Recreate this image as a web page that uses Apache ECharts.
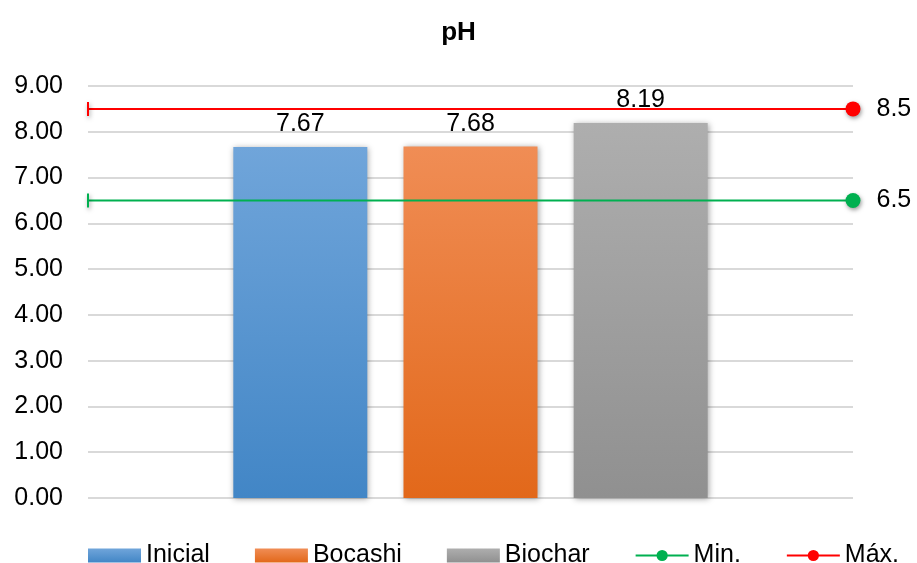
<!DOCTYPE html>
<html>
<head>
<meta charset="utf-8">
<script src="https://cdn.jsdelivr.net/npm/echarts@6/dist/echarts.min.js"></script>
<style>
  html, body { margin: 0; padding: 0; background: #fff; }
  #main { width: 917px; height: 563px; }
</style>
</head>
<body>
<div id="main"></div>
<script>
// ===== 数据 =====
const categories = ['pH'];
const barNames = ['Inicial', 'Bocashi', 'Biochar'];
const barValues = [7.67, 7.68, 8.19];
const minValue = 6.5;
const maxValue = 8.5;
const yTicks = [0, 1, 2, 3, 4, 5, 6, 7, 8, 9];

// 渐变色（上浅下深）
const barColors = [
  ['#70a5da', '#4286c6'],
  ['#f08d55', '#e2681a'],
  ['#aeaeae', '#909090']
];

const FONT = 'Liberation Sans, Arial';

function grad(top, bottom) {
  return {
    type: 'linear', x: 0, y: 0, x2: 0, y2: 1,
    colorStops: [{ offset: 0, color: top }, { offset: 1, color: bottom }]
  };
}

const chart = echarts.init(document.getElementById('main'));

const barSeries = barNames.map((name, i) => ({
  name,
  type: 'bar',
  xAxisIndex: 0,
  data: [barValues[i]],
  barWidth: 134,
  barGap: '27%',
  itemStyle: {
    color: grad(barColors[i][0], barColors[i][1]),
    shadowBlur: 6,
    shadowColor: 'rgba(0,0,0,0.35)',
    shadowOffsetX: 1,
    shadowOffsetY: 1
  },
  label: {
    show: true,
    position: 'top',
    distance: 10,
    formatter: p => p.value.toFixed(2),
    fontFamily: FONT,
    fontSize: 25,
    color: '#000'
  }
}));

function limitLine(name, value, color) {
  return {
    name,
    type: 'line',
    xAxisIndex: 1,
    yAxisIndex: 0,
    symbol: 'circle',
    data: [
      { value: [0, value], symbol: 'rect', symbolSize: [2, 14], label: { show: false } },
      { value: [1, value], symbol: 'circle', symbolSize: 15 }
    ],
    lineStyle: { color, width: 2 },
    itemStyle: {
      color,
      shadowBlur: 4,
      shadowColor: 'rgba(0,0,0,0.4)',
      shadowOffsetX: 1,
      shadowOffsetY: 2
    },
    label: {
      show: true,
      position: 'right',
      distance: 16,
      formatter: () => String(value),
      fontFamily: FONT,
      fontSize: 25,
      color: '#000'
    },
    z: 5
  };
}

const option = {
  animation: false,
  backgroundColor: '#fff',
  title: {
    text: 'pH',
    left: 'center',
    top: 15,
    textStyle: { fontFamily: FONT, fontSize: 26, fontWeight: 'bold', color: '#000' }
  },
  grid: { left: 88, right: 64, top: 86, bottom: 65 },
  legend: {
    top: 538,
    left: 83,
    itemGap: 45,
    itemWidth: 53,
    itemHeight: 14,
    textStyle: { fontFamily: FONT, fontSize: 25, color: '#000' },
    data: [
      { name: 'Inicial', icon: 'rect' },
      { name: 'Bocashi', icon: 'rect' },
      { name: 'Biochar', icon: 'rect' },
      { name: 'Min.' },
      { name: 'Máx.' }
    ]
  },
  xAxis: [
    {
      type: 'category',
      data: categories,
      axisLine: { show: false },
      axisTick: { show: false },
      axisLabel: { show: false }
    },
    {
      type: 'value',
      min: 0,
      max: 1,
      show: false
    }
  ],
  yAxis: {
    type: 'value',
    min: yTicks[0],
    max: yTicks[yTicks.length - 1],
    interval: 1,
    axisLine: { show: false },
    axisTick: { show: false },
    axisLabel: {
      margin: 25,
      formatter: v => v.toFixed(2),
      fontFamily: FONT,
      fontSize: 25,
      color: '#000'
    },
    splitLine: { lineStyle: { color: '#d9d9d9', width: 2 } }
  },
  series: [
    ...barSeries,
    limitLine('Min.', minValue, '#00b050'),
    limitLine('Máx.', maxValue, '#ff0000')
  ]
};

chart.setOption(option);
</script>
</body>
</html>
